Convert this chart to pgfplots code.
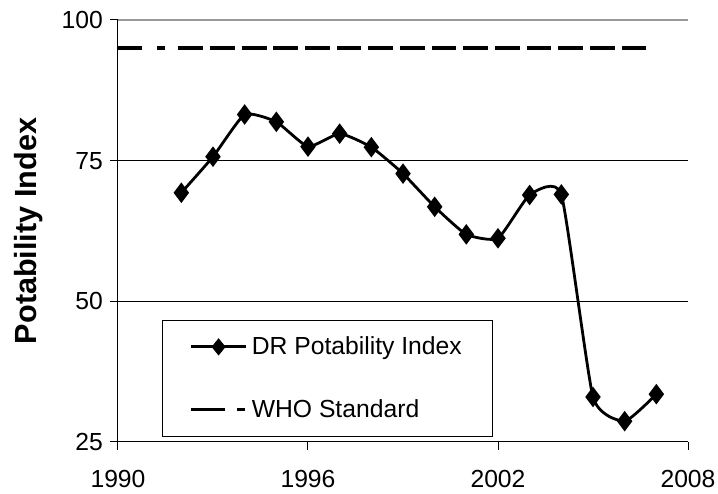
\documentclass[border=0pt]{standalone}
\usepackage{fontspec}
\setmainfont{Liberation Sans}
\usepackage{pgfplots}
\pgfplotsset{compat=1.18}
\pgfplotsset{
  dilegend/.style={legend image code/.code={%
    \draw[black, line width=1.4pt, solid] (3pt,0pt) -- (30.5pt,0pt);
    \draw[black, fill=black, line width=0.4pt] (16.75pt,-4pt) -- (20pt,0pt) -- (16.75pt,4pt) -- (13.5pt,0pt) -- cycle;}},
  wholegend/.style={legend image code/.code={\draw[black, line width=1.7pt, dash pattern=on 17pt off 6pt on 4pt off 20pt] (3pt,0pt) -- (30.5pt,0pt);}}
}
\begin{document}
\begin{tikzpicture}
\begin{axis}[
  name=ax,
  scale only axis,
  width=285pt, height=211pt,
  xmin=1990, xmax=2008, ymin=25, ymax=100,
  xtick={1990,1996,2002,2008},
  ytick={25,50,75},
  extra y ticks={100},
  extra y tick style={grid=major, major grid style={gray!80, line width=0.7pt}},
  ymajorgrids,
  major grid style={black, line width=0.5pt},
  axis lines=left,
  axis line style={-, line width=0.5pt},
  tick align=outside,
  major tick length=4pt,
  tick style={black, line width=0.5pt},
  /pgf/number format/assume math mode=true,
  /pgf/number format/1000 sep={},
  tick label style={font=\fontsize{12.35}{14.5}\selectfont},
  xticklabel style={yshift=-6.5pt},
  ylabel={\textbf{Potability Index}},
  every axis y label/.style={at={(axis description cs:-0.1575,0.5)}, rotate=90, anchor=center, font=\fontsize{15.3}{17}\selectfont},
  legend style={at={(rel axis cs:0.0772,0.289)}, anchor=north west, draw=black,
    font=\fontsize{12.35}{14.5}\selectfont, inner xsep=13.5pt, inner ysep=6pt, row sep=17pt},
  legend cell align=left,
  clip=false,
]
\addplot[black, line width=1.4pt, smooth, tension=0.3, mark=diamond*, mark size=4pt, mark options={solid, fill=black}, dilegend]
coordinates {
(1992,69.3) (1993,75.7) (1994,83.2) (1995,81.9) (1996,77.5) (1997,79.8)
(1998,77.4) (1999,72.7) (2000,66.8) (2001,61.9) (2002,61.2) (2003,68.9)
(2004,69.0) (2005,33.0) (2006,28.7) (2007,33.5)
};
\addlegendentry{DR Potability Index}
\addplot[black, line width=1.7pt, dash pattern=on 12.35pt off 3.48pt, wholegend]
coordinates {(1991.91,95) (2006.85,95)};
\addlegendentry{WHO Standard}
\addplot[black, line width=1.7pt, dash pattern=on 12pt off 7.4pt on 4pt off 20pt, forget plot]
coordinates {(1990,95) (1991.48,95)};
\end{axis}
\pgfresetboundingbox
\path ([shift={(-59pt,-26pt)}]ax.south west) rectangle ([shift={(15pt,10pt)}]ax.north east);
\end{tikzpicture}
\end{document}
